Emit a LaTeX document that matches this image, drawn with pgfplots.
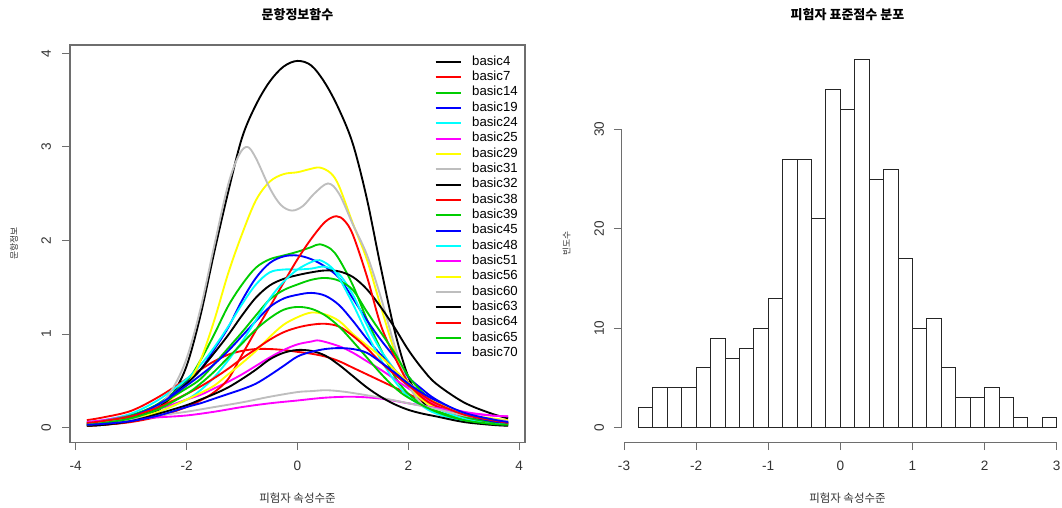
\documentclass[border=0pt]{standalone}
\usepackage{pgfplots}
\pgfplotsset{compat=1.18}
\usepackage{fontspec}
\setmainfont{Liberation Sans}
\newfontfamily\kr{Noto Sans CJK KR}
\definecolor{rgreen}{RGB}{0,205,0}
\definecolor{rgray}{RGB}{190,190,190}
\definecolor{rcyan}{RGB}{0,255,255}
\definecolor{rmag}{RGB}{255,0,255}
\definecolor{ryel}{RGB}{255,255,0}
\definecolor{axgray}{RGB}{110,110,110}
\begin{document}
\begin{tikzpicture}
\useasboundingbox (0pt,0pt) rectangle (796.5pt,-380.25pt);
\begin{axis}[
  at={(52.5pt,-331.725pt)}, anchor=south west, scale only axis,
  width=341.25pt, height=297.975pt,
  xmin=-4.104, xmax=4.104, ymin=-0.157, ymax=4.09,
  xtick={-4,-2,0,2,4}, ytick={0,1,2,3,4},
  tick align=outside, tick pos=left,
  major tick length=5.8pt,
  every tick/.style={axgray, line width=0.75pt},
  axis line style={axgray, line width=0.9pt},
  /pgf/number format/assume math mode=true,
  ticklabel style={font=\fontsize{10.2}{11}\selectfont, text=black!80},
  yticklabel style={rotate=90, anchor=south},
  xticklabel shift=4.5pt, yticklabel shift=5pt,
  every axis plot/.append style={line width=1.4pt, smooth, tension=0.55},
  legend style={at={(axis description cs:0.8009,0.9774)}, anchor=north west,
    draw=none, fill=none, inner sep=0pt, font=\fontsize{9.9}{11}\selectfont,
    row sep=0pt,
    nodes={inner sep=0pt, text height=8.2pt, text depth=3.3pt, anchor=west},
    /tikz/every odd column/.append style={column sep=8pt}},
  legend cell align=left,
  legend image code/.code={\draw[#1] (0pt,0pt) -- (18.75pt,0pt);},
]
\addplot[black] coordinates {(-3.8,0.02)(-3.5,0.03)(-3,0.07)(-2.5,0.19)(-2.25,0.36)(-2,0.66)(-1.75,1.2)(-1.5,1.88)(-1.25,2.52)(-1,3.1)(-0.75,3.45)(-0.5,3.7)(-0.25,3.86)(0,3.92)(0.25,3.87)(0.5,3.68)(0.75,3.4)(1,3.03)(1.25,2.45)(1.5,1.72)(1.75,1.04)(2,0.54)(2.25,0.28)(2.5,0.17)(3,0.09)(3.5,0.04)(3.8,0.03)};
\addlegendentry{basic4}
\addplot[red] coordinates {(-3.8,0.08)(-3.5,0.11)(-3,0.18)(-2.5,0.33)(-2,0.52)(-1.75,0.62)(-1.5,0.71)(-1.25,0.78)(-1,0.82)(-0.75,0.84)(-0.5,0.84)(-0.25,0.83)(0,0.81)(0.25,0.79)(0.5,0.76)(0.75,0.71)(1,0.64)(1.25,0.57)(1.5,0.5)(1.75,0.43)(2,0.36)(2.25,0.29)(2.5,0.23)(3,0.14)(3.5,0.08)(3.8,0.06)};
\addlegendentry{basic7}
\addplot[rgreen] coordinates {(-3.8,0.05)(-3.5,0.07)(-3,0.13)(-2.5,0.26)(-2,0.5)(-1.75,0.72)(-1.5,1.0)(-1.25,1.3)(-1,1.53)(-0.75,1.71)(-0.5,1.8)(-0.25,1.84)(0,1.88)(0.25,1.93)(0.4,1.96)(0.6,1.91)(0.75,1.8)(1,1.52)(1.25,1.16)(1.5,0.84)(1.75,0.55)(2,0.36)(2.25,0.25)(2.5,0.18)(3,0.09)(3.5,0.05)(3.8,0.04)};
\addlegendentry{basic14}
\addplot[blue] coordinates {(-3.8,0.04)(-3.5,0.06)(-3,0.12)(-2.5,0.25)(-2,0.48)(-1.75,0.62)(-1.5,0.84)(-1.25,1.07)(-1,1.36)(-0.75,1.6)(-0.5,1.76)(-0.25,1.83)(0,1.84)(0.25,1.8)(0.5,1.72)(0.75,1.6)(1,1.38)(1.25,1.15)(1.5,0.94)(1.75,0.75)(2,0.54)(2.25,0.41)(2.5,0.3)(3,0.15)(3.5,0.08)(3.8,0.05)};
\addlegendentry{basic19}
\addplot[rcyan] coordinates {(-3.8,0.06)(-3.5,0.08)(-3,0.15)(-2.5,0.3)(-2,0.52)(-1.75,0.67)(-1.5,0.86)(-1.25,1.08)(-1,1.32)(-0.75,1.53)(-0.5,1.66)(-0.25,1.69)(0,1.69)(0.25,1.7)(0.5,1.72)(0.75,1.64)(1,1.42)(1.25,1.1)(1.5,0.83)(1.75,0.62)(2,0.43)(2.25,0.3)(2.5,0.21)(3,0.1)(3.5,0.05)(3.8,0.04)};
\addlegendentry{basic24}
\addplot[rmag] coordinates {(-3.8,0.06)(-3.5,0.08)(-3,0.13)(-2.5,0.2)(-2,0.3)(-1.75,0.35)(-1.5,0.42)(-1.25,0.49)(-1,0.57)(-0.75,0.66)(-0.5,0.75)(-0.25,0.83)(0,0.89)(0.25,0.92)(0.4,0.93)(0.75,0.87)(1,0.8)(1.25,0.71)(1.5,0.62)(1.75,0.52)(2,0.42)(2.25,0.33)(2.5,0.25)(3,0.17)(3.5,0.13)(3.8,0.12)};
\addlegendentry{basic25}
\addplot[ryel] coordinates {(-3.8,0.04)(-3.5,0.05)(-3,0.1)(-2.5,0.22)(-2.25,0.32)(-2,0.45)(-1.75,0.72)(-1.5,1.15)(-1.25,1.65)(-1,2.07)(-0.75,2.43)(-0.5,2.63)(-0.25,2.71)(0,2.73)(0.2,2.76)(0.4,2.78)(0.6,2.72)(0.75,2.58)(1,2.18)(1.25,1.8)(1.5,1.3)(1.75,0.82)(2,0.46)(2.25,0.3)(2.5,0.21)(3,0.14)(3.5,0.1)(3.8,0.08)};
\addlegendentry{basic29}
\addplot[rgray] coordinates {(-3.8,0.03)(-3.5,0.04)(-3,0.09)(-2.5,0.24)(-2.25,0.42)(-2,0.74)(-1.75,1.27)(-1.5,1.95)(-1.25,2.6)(-1.05,2.92)(-0.9,3.0)(-0.75,2.88)(-0.5,2.56)(-0.3,2.38)(-0.1,2.32)(0.1,2.37)(0.3,2.5)(0.55,2.61)(0.75,2.5)(1,2.17)(1.25,1.85)(1.5,1.4)(1.75,0.88)(2,0.46)(2.25,0.25)(2.5,0.16)(3,0.07)(3.5,0.03)(3.8,0.02)};
\addlegendentry{basic31}
\addplot[black] coordinates {(-3.8,0.03)(-3.5,0.05)(-3,0.1)(-2.5,0.22)(-2,0.47)(-1.75,0.62)(-1.5,0.8)(-1.25,0.99)(-1,1.2)(-0.75,1.39)(-0.5,1.52)(-0.25,1.59)(0,1.63)(0.25,1.66)(0.5,1.68)(0.75,1.67)(1,1.61)(1.25,1.48)(1.5,1.29)(1.75,1.07)(2,0.83)(2.25,0.63)(2.5,0.47)(3,0.27)(3.5,0.15)(3.8,0.1)};
\addlegendentry{basic32}
\addplot[red] coordinates {(-3.8,0.02)(-3.5,0.03)(-3,0.06)(-2.5,0.12)(-2,0.22)(-1.75,0.29)(-1.5,0.38)(-1.25,0.52)(-1,0.78)(-0.75,1.04)(-0.5,1.29)(-0.25,1.55)(0,1.8)(0.25,2.02)(0.5,2.2)(0.7,2.26)(0.85,2.21)(1,2.06)(1.25,1.62)(1.5,1.1)(1.75,0.76)(2,0.48)(2.25,0.32)(2.5,0.23)(3,0.12)(3.5,0.06)(3.8,0.04)};
\addlegendentry{basic38}
\addplot[rgreen] coordinates {(-3.8,0.05)(-3.5,0.07)(-3,0.13)(-2.5,0.25)(-2,0.42)(-1.75,0.52)(-1.5,0.68)(-1.25,0.85)(-1,1.02)(-0.75,1.2)(-0.5,1.37)(-0.25,1.47)(0,1.53)(0.25,1.58)(0.5,1.6)(0.75,1.57)(1,1.47)(1.25,1.24)(1.5,1.02)(1.75,0.8)(2,0.55)(2.25,0.38)(2.5,0.27)(3,0.12)(3.5,0.06)(3.8,0.04)};
\addlegendentry{basic39}
\addplot[blue] coordinates {(-3.8,0.04)(-3.5,0.06)(-3,0.12)(-2.5,0.25)(-2,0.45)(-1.75,0.56)(-1.5,0.68)(-1.25,0.82)(-1,0.98)(-0.75,1.14)(-0.5,1.29)(-0.25,1.38)(0,1.42)(0.25,1.44)(0.5,1.41)(0.75,1.31)(1,1.14)(1.25,0.95)(1.5,0.78)(1.75,0.62)(2,0.48)(2.25,0.36)(2.5,0.27)(3,0.14)(3.5,0.07)(3.8,0.05)};
\addlegendentry{basic45}
\addplot[rcyan] coordinates {(-3.8,0.03)(-3.5,0.04)(-3,0.08)(-2.5,0.17)(-2,0.3)(-1.75,0.4)(-1.5,0.54)(-1.25,0.72)(-1,0.92)(-0.75,1.15)(-0.5,1.38)(-0.25,1.56)(0,1.69)(0.25,1.77)(0.4,1.79)(0.6,1.72)(0.75,1.6)(1,1.32)(1.25,1.01)(1.5,0.73)(1.75,0.5)(2,0.33)(2.25,0.23)(2.5,0.15)(3,0.07)(3.5,0.04)(3.8,0.03)};
\addlegendentry{basic48}
\addplot[rmag] coordinates {(-3.8,0.06)(-3.5,0.07)(-3,0.09)(-2.5,0.11)(-2,0.13)(-1.5,0.17)(-1,0.22)(-0.5,0.26)(0,0.29)(0.5,0.32)(1,0.33)(1.5,0.31)(2,0.26)(2.5,0.21)(3,0.16)(3.5,0.13)(3.8,0.12)};
\addlegendentry{basic51}
\addplot[ryel] coordinates {(-3.8,0.04)(-3.5,0.05)(-3,0.09)(-2.5,0.17)(-2,0.3)(-1.75,0.37)(-1.5,0.45)(-1.25,0.57)(-1,0.69)(-0.75,0.82)(-0.5,0.97)(-0.25,1.1)(0,1.18)(0.25,1.23)(0.5,1.21)(0.75,1.14)(1,1.0)(1.25,0.88)(1.5,0.76)(1.75,0.62)(2,0.48)(2.25,0.36)(2.5,0.27)(3,0.15)(3.5,0.09)(3.8,0.07)};
\addlegendentry{basic56}
\addplot[rgray] coordinates {(-3.8,0.05)(-3.5,0.06)(-3,0.09)(-2.5,0.13)(-2,0.17)(-1.5,0.22)(-1,0.27)(-0.5,0.33)(0,0.38)(0.25,0.39)(0.5,0.4)(0.75,0.39)(1,0.37)(1.5,0.32)(2,0.26)(2.5,0.2)(3,0.13)(3.5,0.09)(3.8,0.07)};
\addlegendentry{basic60}
\addplot[black] coordinates {(-3.8,0.02)(-3.5,0.03)(-3,0.07)(-2.5,0.15)(-2,0.24)(-1.75,0.3)(-1.5,0.36)(-1.25,0.43)(-1,0.52)(-0.75,0.62)(-0.5,0.73)(-0.25,0.8)(0,0.83)(0.25,0.82)(0.5,0.77)(0.75,0.67)(1,0.55)(1.25,0.43)(1.5,0.33)(1.75,0.25)(2,0.19)(2.25,0.15)(2.5,0.12)(3,0.06)(3.5,0.03)(3.8,0.02)};
\addlegendentry{basic63}
\addplot[red] coordinates {(-3.8,0.05)(-3.5,0.07)(-3,0.12)(-2.5,0.22)(-2,0.36)(-1.75,0.44)(-1.5,0.53)(-1.25,0.63)(-1,0.74)(-0.75,0.84)(-0.5,0.94)(-0.25,1.02)(0,1.07)(0.25,1.1)(0.5,1.11)(0.75,1.08)(1,0.98)(1.25,0.85)(1.5,0.7)(1.75,0.57)(2,0.45)(2.25,0.35)(2.5,0.26)(3,0.14)(3.5,0.08)(3.8,0.05)};
\addlegendentry{basic64}
\addplot[rgreen] coordinates {(-3.8,0.03)(-3.5,0.05)(-3,0.1)(-2.5,0.2)(-2,0.36)(-1.75,0.47)(-1.5,0.6)(-1.25,0.75)(-1,0.9)(-0.75,1.05)(-0.5,1.17)(-0.25,1.26)(0,1.29)(0.25,1.27)(0.5,1.2)(0.75,1.08)(1,0.92)(1.25,0.75)(1.5,0.58)(1.75,0.43)(2,0.32)(2.5,0.17)(3,0.08)(3.5,0.04)(3.8,0.03)};
\addlegendentry{basic65}
\addplot[blue] coordinates {(-3.8,0.03)(-3.5,0.04)(-3,0.07)(-2.5,0.13)(-2,0.22)(-1.75,0.26)(-1.5,0.31)(-1.25,0.36)(-1,0.41)(-0.75,0.47)(-0.5,0.56)(-0.25,0.66)(0,0.76)(0.25,0.81)(0.5,0.84)(0.75,0.85)(1,0.84)(1.25,0.8)(1.5,0.7)(1.75,0.59)(2,0.47)(2.25,0.37)(2.5,0.29)(3,0.16)(3.5,0.09)(3.8,0.06)};
\addlegendentry{basic70}
\end{axis}

\begin{axis}[
  at={(466.275pt,-331.725pt)}, anchor=south west, scale only axis,
  width=338.775pt, height=297.975pt,
  xmin=-3.032, xmax=3.232, ymin=-1.48, ymax=38.48,
  xtick={-3,-2,-1,0,1,2,3}, ytick={0,10,20,30},
  tick align=outside, tick pos=left,
  major tick length=5.8pt,
  every tick/.style={axgray, line width=0.75pt},
  axis line style={draw=none},
  clip=false,
  /pgf/number format/assume math mode=true,
  ticklabel style={font=\fontsize{10.2}{11}\selectfont, text=black!80},
  yticklabel style={rotate=90, anchor=south},
  xticklabel shift=4.5pt, yticklabel shift=4pt,
]
\addplot[ybar interval, fill=white, draw=black!85, line width=0.7pt] coordinates {
(-2.8,2)(-2.6,4)(-2.4,4)(-2.2,4)(-2.0,6)(-1.8,9)(-1.6,7)(-1.4,8)(-1.2,10)(-1.0,13)
(-0.8,27)(-0.6,27)(-0.4,21)(-0.2,34)(0.0,32)(0.2,37)(0.4,25)(0.6,26)(0.8,17)(1.0,10)
(1.2,11)(1.4,6)(1.6,3)(1.8,3)(2.0,4)(2.2,3)(2.4,1)(2.6,0)(2.8,1)(3.0,1)};
\draw[axgray, line width=0.75pt] (axis cs:-3,-1.48) -- (axis cs:3,-1.48);
\draw[axgray, line width=0.75pt] (axis cs:-3.032,0) -- (axis cs:-3.032,30);
\end{axis}

\node[font={\kr\bfseries\fontsize{9.75}{11}\selectfont}] at (223.1pt,-11.25pt) {문항정보함수};
\node[font={\kr\bfseries\fontsize{9.75}{11}\selectfont}] at (635.6pt,-11.25pt) {피험자 표준점수 분포};
\node[font={\kr\fontsize{8.6}{10}\selectfont}, text=black!80] at (223.1pt,-373.3pt) {피험자 속성수준};
\node[font={\kr\fontsize{8.6}{10}\selectfont}, text=black!80] at (635.6pt,-373.3pt) {피험자 속성수준};
\node[font={\kr\fontsize{6.6}{8}\selectfont}, text=black!80, rotate=90] at (10.5pt,-182.7pt) {문항정보};
\node[font={\kr\fontsize{6.6}{8}\selectfont}, text=black!80, rotate=90] at (425pt,-182.7pt) {빈도수};
\end{tikzpicture}
\end{document}
